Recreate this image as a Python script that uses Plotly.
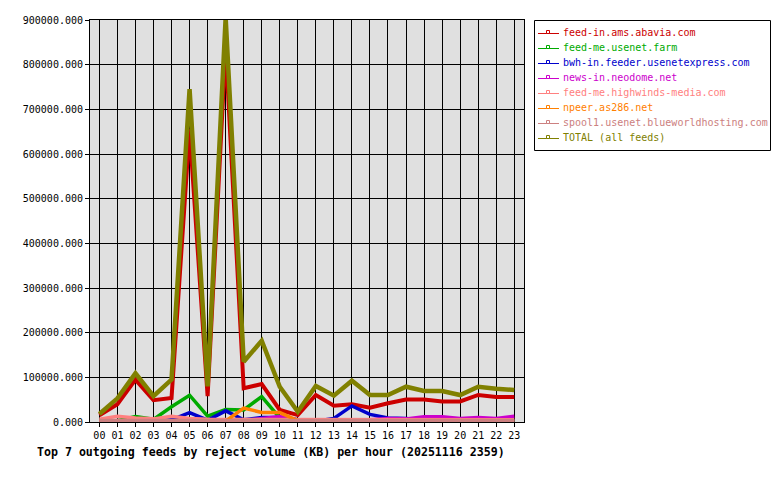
import plotly.graph_objects as go

hours = [f"{h:02d}" for h in range(24)]
hour_idx = list(range(24))

feed_names = [
    "feed-in.ams.abavia.com",
    "feed-me.usenet.farm",
    "bwh-in.feeder.usenetexpress.com",
    "news-in.neodome.net",
    "feed-me.highwinds-media.com",
    "npeer.as286.net",
    "spool1.usenet.blueworldhosting.com",
    "TOTAL (all feeds)",
]

abavia = [15000, 40000, 95000, 49000, 54000, 655000, 58000, 838000, 75500, 85000, 27000, 15500,
          60500, 36500, 39500, 32000, 42000, 50500, 50500, 46000, 46000, 60500, 56000, 56000]
usenet_farm = [2000, 3000, 12000, 6000, 34000, 60000, 13000, 28000, 27000, 57000, 9000, 1000,
               5000, 2000, 5000, 5000, 1000, 1000, 2000, 3000, 1000, 3000, 1000, 3000]
usenetexpress = [0, 0, 0, 1000, 5000, 21000, 4000, 25000, 5000, 10000, 10000, 5000,
                 2000, 8000, 36000, 17000, 9000, 8000, 4000, 4000, 2000, 2000, 2000, 2000]
neodome = [1000, 1000, 1000, 1000, 2000, 2000, 2000, 2000, 3000, 8000, 12000, 5000,
           4000, 4000, 5000, 5000, 8000, 7000, 12000, 12000, 8000, 10000, 8000, 13000]
highwinds = [6000, 13000, 9000, 7000, 13000, 8000, 6000, 6000, 5000, 6000, 5000, 5000,
             5000, 5000, 5000, 5000, 5000, 5000, 5000, 5000, 5000, 5000, 5000, 5000]
as286 = [0, 0, 0, 0, 0, 0, 0, 2000, 31000, 21500, 21000, 3000,
         1000, 1000, 1000, 1000, 1000, 1000, 1000, 1000, 1000, 1000, 1000, 1000]
blueworld = [3500, 3500, 3500, 3500, 3500, 3500, 3500, 3500, 3500, 3500, 3500, 3500,
             3500, 3500, 3500, 3500, 3500, 3500, 3500, 3500, 3500, 3500, 3500, 3500]
total = [18000, 53000, 109000, 58000, 95000, 745000, 80000, 905000, 135000, 182000, 79000, 23000,
         80600, 59000, 92500, 60400, 60400, 79000, 69400, 69400, 60400, 79000, 74600, 71600]

series = [abavia, usenet_farm, usenetexpress, neodome, highwinds, as286, blueworld, total]
colors = ["#cc0000", "#00aa00", "#0000cc", "#cc00cc", "#ff8080", "#ff8000", "#cc8080", "#808000"]
widths = [4, 3.5, 3.5, 3.5, 3.5, 3.5, 3.5, 4.5]

title_text = "Top 7 outgoing feeds by reject volume (KB) per hour (20251116 2359)"

# plot area in pixels
L, R, T, B = 90, 524, 20, 422
W, H = 780, 480


def px(x):
    return (x - L) / (R - L)


def py(y):
    return (B - y) / (B - T)


fig = go.Figure()
for name, vals, c, w in zip(feed_names, series, colors, widths):
    fig.add_trace(go.Scatter(x=hour_idx, y=vals, mode="lines", name=name,
                             line=dict(color=c, width=w), showlegend=False,
                             hoverinfo="skip"))

mono = "DejaVu Sans Mono, Liberation Mono, monospace"

shapes = []
annotations = []
# legend box
shapes.append(dict(type="rect", xref="paper", yref="paper",
                   x0=px(534.5), x1=px(770.5), y0=py(150.5), y1=py(20.5),
                   line=dict(color="black", width=1), fillcolor="white", layer="above"))
for i, (name, c) in enumerate(zip(feed_names, colors)):
    yc = 33.5 + 15 * i
    shapes.append(dict(type="line", xref="paper", yref="paper",
                       x0=px(538), x1=px(559), y0=py(yc), y1=py(yc),
                       line=dict(color=c, width=1), layer="above"))
    shapes.append(dict(type="rect", xref="paper", yref="paper",
                       x0=px(546.5), x1=px(549.5), y0=py(yc), y1=py(yc - 3),
                       line=dict(color=c, width=1), fillcolor="white", layer="above"))
    annotations.append(dict(xref="paper", yref="paper", x=px(561), y=py(yc - 1),
                            xanchor="left", yanchor="middle", showarrow=False,
                            text=name, font=dict(family=mono, size=10, color=c)))

annotations.append(dict(xref="paper", yref="paper", x=px(271), y=py(452),
                        xanchor="center", yanchor="middle", showarrow=False,
                        text="<b>" + title_text + "</b>",
                        font=dict(family=mono, size=11.6, color="black")))

fig.update_layout(
    width=W, height=H,
    margin=dict(l=L, r=W - R, t=T, b=H - B, pad=0),
    paper_bgcolor="white",
    plot_bgcolor="#e0e0e0",
    showlegend=False,
    shapes=shapes,
    annotations=annotations,
    font=dict(family=mono, size=10, color="black"),
)
fig.update_xaxes(
    range=[-0.52, 23.54], tickmode="array", tickvals=hour_idx, ticktext=hours,
    showgrid=True, gridcolor="black", gridwidth=1,
    showline=True, linecolor="black", linewidth=1, mirror=True,
    ticks="outside", ticklen=4, tickcolor="black", zeroline=False,
    tickfont=dict(family=mono, size=10, color="black"),
)
fig.update_yaxes(
    range=[0, 900000], tickmode="linear", tick0=0, dtick=100000, tickformat=".3f",
    showgrid=True, gridcolor="black", gridwidth=1,
    showline=True, linecolor="black", linewidth=1, mirror=True,
    ticks="outside", ticklen=4, tickcolor="black", zeroline=False,
    tickfont=dict(family=mono, size=10, color="black"),
)

fig.write_html("out.html")
